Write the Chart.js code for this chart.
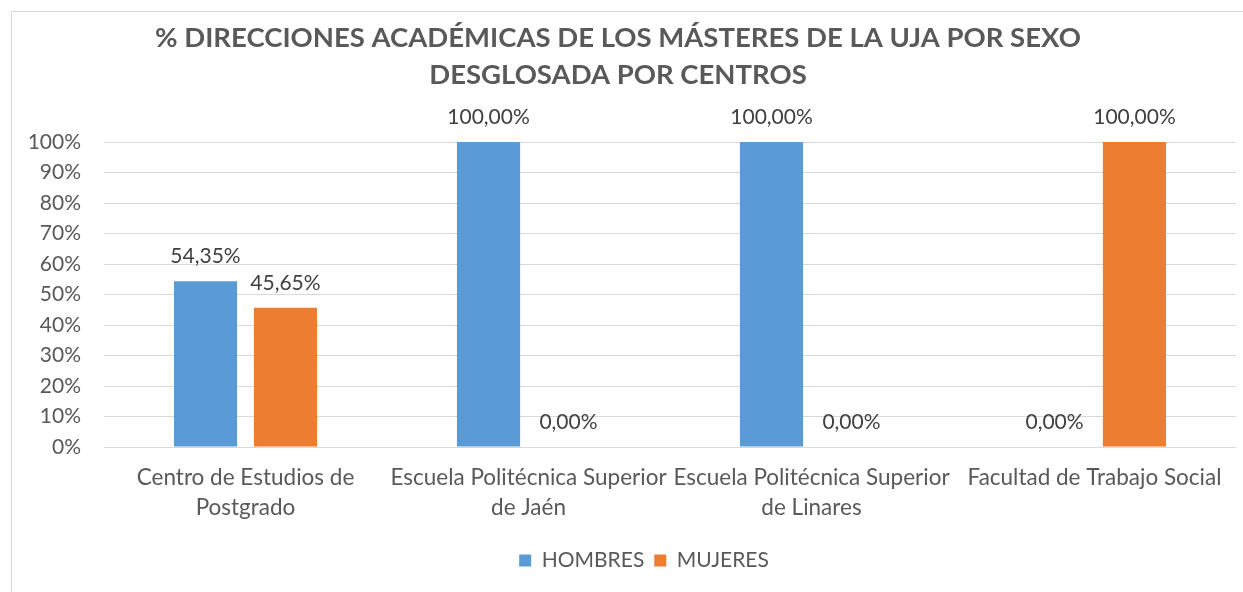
<!DOCTYPE html>
<html lang="es">
<head>
<meta charset="utf-8">
<title>% Direcciones académicas por sexo</title>
<script src="https://cdn.jsdelivr.net/npm/chart.js@4.4.1/dist/chart.umd.min.js"></script>
<style>
  html,body{margin:0;padding:0;background:#fff;overflow:hidden;}
  #frame{position:absolute;left:11px;top:11px;width:1300px;height:700px;border:1px solid #d9d9d9;}
  #box{position:absolute;left:0;top:0;width:1243px;height:592px;}
</style>
</head>
<body>
<div id="frame"></div>
<div id="box"><canvas id="chart"></canvas></div>
<script>
/* ---------- Datos ---------- */
const TITLE_LINES = ['% DIRECCIONES ACADÉMICAS DE LOS MÁSTERES DE LA UJA POR SEXO', 'DESGLOSADA POR CENTROS'];
const CENTROS = [
  ['Centro de Estudios de', 'Postgrado'],
  ['Escuela Politécnica Superior', 'de Jaén'],
  ['Escuela Politécnica Superior', 'de Linares'],
  'Facultad de Trabajo Social'
];
const HOMBRES = [54.35, 100, 100, 0];
const MUJERES = [45.65, 0, 0, 100];
const Y_TICKS = [0, 10, 20, 30, 40, 50, 60, 70, 80, 90, 100];

const FONT = 'Lato, "Open Sans", sans-serif';
const GREY = '#595959';

function fmtPct(v){ return v.toFixed(2).replace('.', ',') + '%'; }

// etiquetas de datos encima de cada barra
const barLabels = {
  id: 'barLabels',
  afterDatasetsDraw(chart){
    const ctx = chart.ctx;
    ctx.save();
    ctx.font = '21px ' + FONT;
    ctx.fillStyle = '#404040';
    ctx.textAlign = 'center';
    ctx.textBaseline = 'middle';
    chart.data.datasets.forEach((ds, i)=>{
      const meta = chart.getDatasetMeta(i);
      meta.data.forEach((bar, j)=>{
        ctx.fillText(fmtPct(ds.data[j]), bar.x, bar.y - 25);
      });
    });
    ctx.restore();
  }
};

// la leyenda de Excel queda algo a la derecha del centro
const legendShift = {
  id: 'legendShift',
  afterLayout(chart){
    const lg = chart.legend;
    if(!lg) return;
    lg.left += 26;
    lg.right += 26;
  }
};

new Chart(document.getElementById('chart'), {
  type: 'bar',
  data: {
    labels: CENTROS,
    datasets: [
      { label: 'HOMBRES', data: HOMBRES, backgroundColor: '#5b9bd5' },
      { label: 'MUJERES', data: MUJERES, backgroundColor: '#ed7d31' }
    ]
  },
  options: {
    responsive: true,
    maintainAspectRatio: false,
    animation: false,
    datasets: { bar: { categoryPercentage: 0.565, barPercentage: 0.79 } },
    layout: { padding: { left: 0, right: 7, top: 0, bottom: 11 } },
    plugins: {
      title: {
        display: true,
        text: TITLE_LINES,
        color: GREY,
        font: { family: FONT, size: 27.5, weight: 'bold', lineHeight: '37px' },
        padding: { top: 20, bottom: 48 }
      },
      legend: {
        position: 'bottom',
        labels: {
          color: GREY,
          font: { family: FONT, size: 21 },
          boxWidth: 12, boxHeight: 12,
          padding: 10
        }
      },
      tooltip: { enabled: false }
    },
    scales: {
      x: {
        grid: { display: false },
        border: { display: false },
        ticks: { color: GREY, font: { family: FONT, size: 22.5, lineHeight: '30px' }, padding: 8, maxRotation: 0, autoSkip: false },
        afterFit(scale){ scale.height = 93; }
      },
      y: {
        min: 0, max: 100,
        grid: { color: '#d9d9d9', lineWidth: 1, drawTicks: false },
        border: { display: false },
        afterBuildTicks(scale){ scale.ticks = Y_TICKS.map(v=>({ value: v })); },
        ticks: { color: GREY, font: { family: FONT, size: 21 }, padding: 23, callback: v => v + '%' },
        afterFit(scale){ scale.width = 104; }
      }
    }
  },
  plugins: [barLabels, legendShift]
});
</script>
</body>
</html>
